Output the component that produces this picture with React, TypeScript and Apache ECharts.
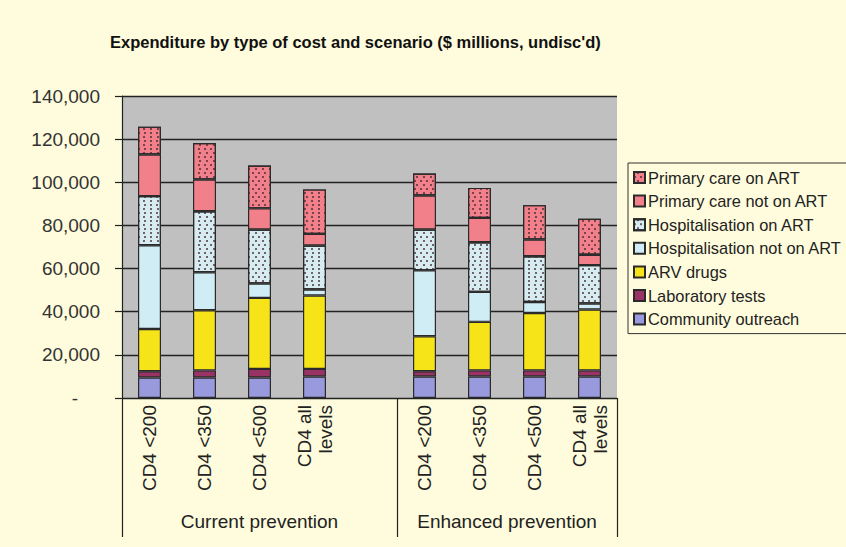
import React, { useEffect, useRef } from "react";
import * as echarts from "echarts";

// Scenario columns (an empty slot separates the two prevention scenarios)
const categories = [
  "CD4 <200", "CD4 <350", "CD4 <500", "CD4 all\nlevels", "",
  "CD4 <200", "CD4 <350", "CD4 <500", "CD4 all\nlevels",
];
const groupNames = ["Current prevention", "Enhanced prevention"];
const groupSizes = [5, 4];

// $ millions, undiscounted; 8 scenarios (4 current, 4 enhanced)
const communityOutreach = [9500, 9500, 9500, 10000, 10000, 10000, 10000, 10000];
const laboratoryTests = [2900, 3300, 4000, 3500, 2400, 2800, 2800, 2800];
const arvDrugs = [19600, 27900, 32900, 34000, 16200, 22500, 26600, 28200];
const hospNotOnArt = [38800, 17600, 6700, 2800, 30600, 13900, 5100, 2800];
const hospOnArt = [22800, 28300, 25000, 20400, 18900, 23000, 21200, 17800];
const primaryNotOnArt = [19300, 14700, 9800, 5400, 15800, 11300, 7800, 4800];
const primaryOnArt = [12900, 16900, 19900, 20600, 10200, 13900, 15900, 16700];

const yTicks = { min: 0, max: 140000, interval: 20000 };

const withGap = (v: number[]) => [...v.slice(0, 4), "-", ...v.slice(4)];

const dots = {
  symbol: "rect",
  symbolSize: 1,
  color: "rgba(70,40,50,0.7)",
  dashArrayX: [[1.3, 3.4], [0, 2.35, 1.3, 1.05]],
  dashArrayY: [1.3, 1.8],
  rotation: 0,
};

const seriesDefs = [
  { name: "Community outreach", data: communityOutreach, color: "#9999DD" },
  { name: "Laboratory tests", data: laboratoryTests, color: "#993366" },
  { name: "ARV drugs", data: arvDrugs, color: "#F6E318" },
  { name: "Hospitalisation not on ART", data: hospNotOnArt, color: "#D0ECF4" },
  { name: "Hospitalisation on ART", data: hospOnArt, color: "#D6ECF0", dotted: true },
  { name: "Primary care not on ART", data: primaryNotOnArt, color: "#F2808A" },
  { name: "Primary care on ART", data: primaryOnArt, color: "#F2808A", dotted: true },
];

export default function App() {
  const ref = useRef<HTMLDivElement>(null);

  useEffect(() => {
    if (!ref.current) return;
    const chart = echarts.init(ref.current, null, { renderer: "svg" });

    const bounds = [0];
    groupSizes.forEach((s) => bounds.push(bounds[bounds.length - 1] + s));
    const centers = groupSizes.map((s, i) => bounds[i] + s / 2);

    chart.setOption({
      animation: false,
      backgroundColor: "#FEFCDC",
      textStyle: { fontFamily: "Liberation Sans, Arial, sans-serif" },
      title: {
        text: "Expenditure by type of cost and scenario ($ millions, undisc'd)",
        left: 105,
        top: 28,
        textStyle: { fontSize: 16.5, fontWeight: "bold", color: "#111" },
      },
      legend: {
        orient: "vertical",
        left: 628,
        top: 163,
        padding: [6, 10, 6, 5],
        itemWidth: 11,
        itemHeight: 11,
        itemGap: 6.6,
        borderColor: "#333",
        borderWidth: 1,
        backgroundColor: "#FEFCDC",
        icon: "rect",
        data: seriesDefs.map((s) => s.name).reverse(),
        textStyle: { fontSize: 16.4, lineHeight: 17, color: "#222", padding: [0, 0, 0, -2] },
      },
      grid: {
        left: 122,
        top: 96,
        width: 495,
        height: 302,
        show: true,
        backgroundColor: "#C0C0C0",
        borderWidth: 0,
      },
      xAxis: [
        {
          type: "category",
          data: categories,
          axisLine: { lineStyle: { color: "#222", width: 1.2 } },
          axisTick: { interval: 0, length: 97, lineStyle: { color: "#222", width: 1.2 } },
          axisLabel: {
            interval: 0,
            rotate: 90,
            margin: 7,
            fontSize: 19,
            lineHeight: 21,
            color: "#222",
          },
        },
        {
          type: "value",
          min: 0,
          max: categories.length,
          position: "bottom",
          axisLine: { show: false },
          splitLine: { show: false },
          axisTick: {
            show: true,
            customValues: bounds,
            length: 139,
            lineStyle: { color: "#222", width: 1.2 },
          },
          axisLabel: {
            customValues: centers,
            margin: 114,
            fontSize: 19,
            color: "#222",
            formatter: (v: number) => groupNames[centers.indexOf(v)] ?? "",
          },
        },
      ],
      yAxis: {
        type: "value",
        ...yTicks,
        axisLine: { show: true, lineStyle: { color: "#222", width: 1.2 } },
        axisTick: { show: true, length: 7, lineStyle: { color: "#222", width: 1.2 } },
        splitLine: { lineStyle: { color: "#222", width: 1.4 } },
        axisLabel: {
          margin: 22,
          fontSize: 19,
          color: "#333",
          formatter: (v: number) =>
            v === 0 ? "{z|-}" : v.toLocaleString("en-US"),
          rich: { z: { fontSize: 19, color: "#333", padding: [0, 22, 0, 0] } },
        },
      },
      series: seriesDefs.map((s) => ({
        name: s.name,
        type: "bar",
        stack: "total",
        barWidth: 23,
        data: withGap(s.data),
        itemStyle: {
          color: s.color,
          borderColor: "#2a2a2a",
          borderWidth: 1.2,
          ...(s.dotted ? { decal: dots } : {}),
        },
      })),
    });

    return () => chart.dispose();
  }, []);

  return (
    <div
      ref={ref}
      style={{ position: "fixed", left: 0, top: 0, width: 846, height: 547 }}
    />
  );
}
